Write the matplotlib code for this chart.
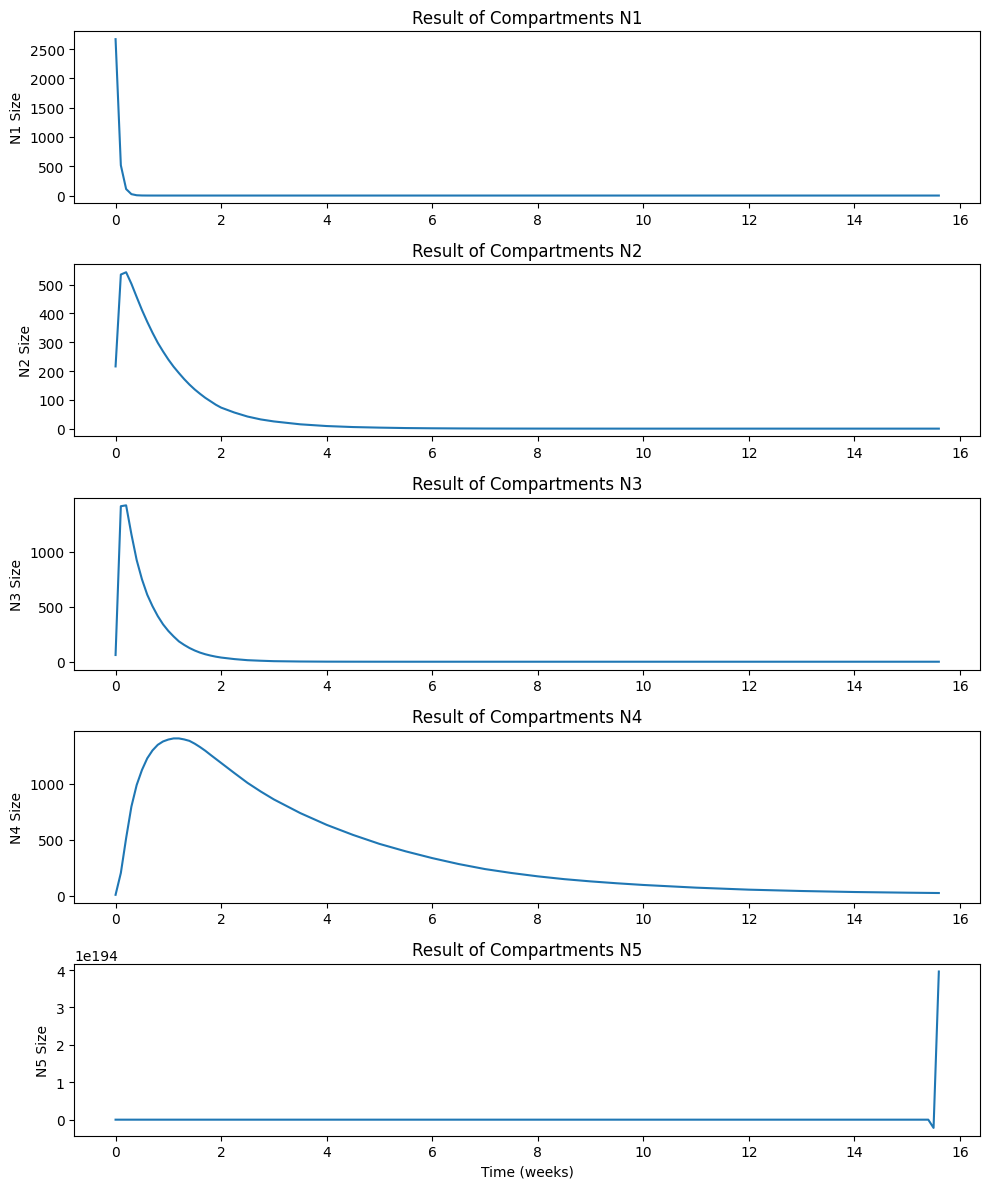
import matplotlib

matplotlib.use("Agg")
import matplotlib.pyplot as plt

# sample times (weeks)
time_weeks = [0, 0.1, 0.2, 0.3, 0.4, 0.5, 0.6, 0.7, 0.8, 0.9, 1.0,
              1.1, 1.2, 1.3, 1.4, 1.5, 1.6, 1.7, 1.8, 1.9, 2.0,
              2.25, 2.5, 2.75, 3.0, 3.5, 4, 4.5, 5, 5.5, 6, 6.5, 7, 7.5, 8,
              8.5, 9, 9.5, 10, 11, 12, 13, 14, 15, 15.4, 15.5, 15.6]

n1 = [2670, 517, 111, 24, 5, 1, 0.2, 0.05, 0, 0, 0,
      0, 0, 0, 0, 0, 0, 0, 0, 0, 0,
      0, 0, 0, 0, 0, 0, 0, 0, 0, 0, 0, 0, 0, 0,
      0, 0, 0, 0, 0, 0, 0, 0, 0, 0, 0, 0]

n2 = [216, 535, 543, 503, 457, 412, 371, 333, 298, 268, 240,
      215, 193, 172, 153, 136, 121, 107, 95, 83, 73,
      56, 42, 32, 25, 15, 9, 5.5, 3.5, 2, 1.2, 0.7, 0.4, 0.25, 0.15,
      0.1, 0.05, 0.03, 0, 0, 0, 0, 0, 0, 0, 0, 0]

n3 = [61, 1415, 1423, 1160, 925, 750, 610, 505, 415, 340, 280,
      230, 185, 153, 125, 102, 83, 68, 56, 46, 38,
      24, 14, 9, 5, 2, 0.7, 0.3, 0.1, 0, 0, 0, 0, 0, 0,
      0, 0, 0, 0, 0, 0, 0, 0, 0, 0, 0, 0]

n4 = [10, 205, 516, 798, 991, 1125, 1229, 1300, 1350, 1380, 1397,
      1407, 1407, 1398, 1385, 1360, 1330, 1297, 1260, 1224, 1188,
      1098, 1010, 933, 862, 740, 635, 545, 465, 398, 338, 285, 240, 205, 175,
      150, 130, 113, 98, 74, 56, 44, 35, 29, 27, 26.5, 26]

n5 = [0, 0, 0, 0, 0, 0, 0, 0, 0, 0, 0,
      0, 0, 0, 0, 0, 0, 0, 0, 0, 0,
      0, 0, 0, 0, 0, 0, 0, 0, 0, 0, 0, 0, 0, 0,
      0, 0, 0, 0, 0, 0, 0, 0, 0, 0, -0.22e194, 3.96e194]

series = {"N1": n1, "N2": n2, "N3": n3, "N4": n4, "N5": n5}


def main() -> None:
    fig, axes = plt.subplots(len(series), 1, figsize=(10, 12), dpi=100)
    for ax, (name, values) in zip(axes, series.items()):
        ax.plot(time_weeks, values)
        ax.set_title(f"Result of Compartments {name}")
        ax.set_ylabel(f"{name} Size")
    axes[-1].set_xlabel("Time (weeks)")
    fig.tight_layout()
    fig.savefig("out.png", dpi=100, bbox_inches="tight")
    plt.close(fig)


if __name__ == "__main__":
    main()
